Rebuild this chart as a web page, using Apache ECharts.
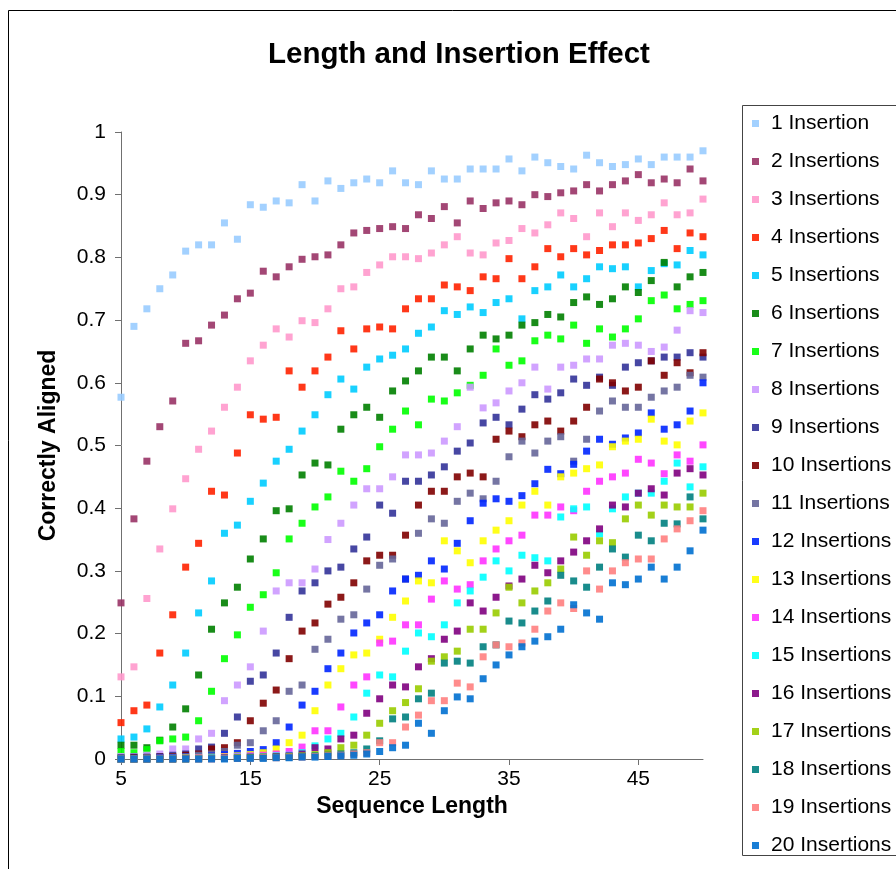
<!DOCTYPE html>
<html>
<head>
<meta charset="utf-8">
<script src="https://cdn.jsdelivr.net/npm/echarts@6/dist/echarts.min.js"></script>
<style>
html,body{margin:0;padding:0;background:#fff;}
#chart{width:896px;height:869px;}
</style>
</head>
<body>
<div id="chart"></div>
<script>
const sequenceLength = [5,6,7,8,9,10,11,12,13,14,15,16,17,18,19,20,21,22,23,24,25,26,27,28,29,30,31,32,33,34,35,36,37,38,39,40,41,42,43,44,45,46,47,48,49,50];
const xTickLabels = [5,15,25,35,45];
const yTickLabels = [0,0.1,0.2,0.3,0.4,0.5,0.6,0.7,0.8,0.9,1];
const seriesNames = ["1 Insertion","2 Insertions","3 Insertions","4 Insertions","5 Insertions","6 Insertions","7 Insertions","8 Insertions","9 Insertions","10 Insertions","11 Insertions","12 Insertions","13 Insertions","14 Insertions","15 Insertions","16 Insertions","17 Insertions","18 Insertions","19 Insertions","20 Insertions"];

const ins1 = [0.577,0.69,0.718,0.75,0.772,0.81,0.82,0.82,0.855,0.829,0.884,0.88,0.89,0.887,0.916,0.89,0.922,0.91,0.919,0.925,0.919,0.938,0.919,0.916,0.938,0.925,0.925,0.941,0.941,0.941,0.957,0.938,0.96,0.951,0.945,0.941,0.963,0.951,0.945,0.948,0.957,0.948,0.96,0.96,0.96,0.97];
const ins2 = [0.249,0.383,0.475,0.530,0.571,0.663,0.667,0.692,0.708,0.734,0.743,0.778,0.769,0.785,0.797,0.801,0.804,0.820,0.839,0.843,0.846,0.849,0.846,0.868,0.862,0.881,0.855,0.890,0.878,0.887,0.890,0.884,0.900,0.897,0.903,0.906,0.916,0.906,0.916,0.922,0.932,0.919,0.925,0.919,0.941,0.922];
const ins3 = [0.131,0.147,0.256,0.335,0.399,0.447,0.494,0.523,0.561,0.593,0.635,0.660,0.686,0.673,0.699,0.696,0.718,0.750,0.753,0.776,0.788,0.801,0.801,0.798,0.807,0.820,0.833,0.807,0.804,0.823,0.827,0.846,0.839,0.852,0.871,0.862,0.833,0.871,0.849,0.871,0.859,0.868,0.887,0.868,0.871,0.893];
const ins4 = [0.058,0.077,0.086,0.169,0.230,0.306,0.344,0.427,0.421,0.488,0.549,0.542,0.545,0.619,0.593,0.619,0.641,0.683,0.654,0.686,0.689,0.686,0.718,0.734,0.734,0.756,0.753,0.747,0.769,0.766,0.798,0.766,0.785,0.814,0.801,0.814,0.804,0.811,0.820,0.820,0.823,0.830,0.843,0.814,0.839,0.833];
const ins5 = [0.032,0.035,0.048,0.083,0.118,0.169,0.233,0.284,0.360,0.373,0.411,0.440,0.475,0.494,0.523,0.549,0.581,0.606,0.590,0.625,0.638,0.644,0.654,0.679,0.689,0.715,0.709,0.721,0.712,0.728,0.734,0.702,0.747,0.753,0.772,0.753,0.766,0.785,0.782,0.785,0.753,0.779,0.790,0.788,0.811,0.804];
const ins6 = [0.022,0.022,0.018,0.030,0.051,0.080,0.134,0.207,0.249,0.274,0.319,0.351,0.396,0.399,0.453,0.472,0.469,0.526,0.549,0.561,0.545,0.587,0.603,0.619,0.641,0.641,0.619,0.654,0.676,0.670,0.676,0.692,0.696,0.709,0.705,0.728,0.737,0.725,0.734,0.753,0.744,0.763,0.792,0.753,0.769,0.776];
const ins7 = [0.012,0.010,0.015,0.029,0.032,0.035,0.061,0.108,0.160,0.198,0.242,0.262,0.297,0.351,0.376,0.402,0.418,0.459,0.443,0.463,0.498,0.526,0.555,0.533,0.574,0.571,0.584,0.596,0.612,0.654,0.628,0.635,0.667,0.676,0.670,0.692,0.663,0.686,0.673,0.686,0.702,0.731,0.740,0.718,0.725,0.731];
const ins8 = [0.004,0.004,0.006,0.008,0.016,0.016,0.032,0.041,0.093,0.118,0.147,0.204,0.268,0.281,0.281,0.303,0.350,0.376,0.405,0.431,0.431,0.450,0.485,0.485,0.488,0.507,0.530,0.593,0.560,0.568,0.587,0.600,0.625,0.590,0.625,0.628,0.638,0.638,0.660,0.663,0.660,0.650,0.657,0.684,0.715,0.712];
const ins9 = [0.002,0.003,0.003,0.004,0.006,0.008,0.016,0.019,0.041,0.067,0.124,0.134,0.169,0.226,0.268,0.281,0.300,0.306,0.335,0.354,0.405,0.392,0.443,0.443,0.453,0.466,0.491,0.504,0.536,0.545,0.533,0.558,0.581,0.574,0.584,0.606,0.596,0.609,0.596,0.625,0.632,0.635,0.641,0.641,0.648,0.641];
const ins10 = [0.001,0.002,0.002,0.003,0.004,0.006,0.008,0.016,0.018,0.026,0.061,0.089,0.110,0.160,0.204,0.217,0.247,0.258,0.281,0.316,0.325,0.325,0.357,0.405,0.427,0.427,0.450,0.456,0.450,0.510,0.523,0.514,0.533,0.539,0.523,0.539,0.561,0.606,0.600,0.587,0.593,0.635,0.612,0.632,0.616,0.648];
const ins11 = [0.001,0.001,0.002,0.002,0.003,0.004,0.006,0.008,0.012,0.022,0.026,0.045,0.061,0.108,0.118,0.175,0.191,0.223,0.230,0.271,0.309,0.319,0.287,0.360,0.383,0.376,0.411,0.424,0.415,0.443,0.482,0.507,0.488,0.507,0.514,0.475,0.510,0.555,0.571,0.561,0.561,0.577,0.587,0.593,0.612,0.609];
const ins12 = [0,0.001,0.001,0.002,0.002,0.003,0.004,0.005,0.007,0.009,0.012,0.015,0.026,0.051,0.086,0.108,0.144,0.169,0.201,0.217,0.230,0.268,0.287,0.293,0.316,0.303,0.344,0.380,0.408,0.415,0.411,0.420,0.439,0.462,0.455,0.470,0.491,0.510,0.502,0.512,0.520,0.552,0.526,0.533,0.555,0.600];
const ins13 = [0,0,0.001,0.001,0.001,0.002,0.003,0.003,0.004,0.005,0.007,0.010,0.016,0.026,0.038,0.077,0.118,0.144,0.166,0.169,0.191,0.226,0.252,0.284,0.281,0.348,0.332,0.313,0.348,0.365,0.380,0.405,0.427,0.405,0.450,0.456,0.463,0.469,0.498,0.507,0.510,0.542,0.507,0.501,0.539,0.552];
const ins14 = [0,0,0,0.001,0.001,0.001,0.002,0.002,0.003,0.004,0.005,0.006,0.008,0.012,0.019,0.045,0.045,0.083,0.118,0.131,0.185,0.188,0.214,0.214,0.255,0.284,0.271,0.278,0.316,0.335,0.348,0.357,0.389,0.389,0.402,0.396,0.427,0.443,0.450,0.456,0.478,0.472,0.455,0.485,0.475,0.501];
const ins15 = [0,0,0,0,0.001,0.001,0.001,0.002,0.002,0.003,0.003,0.004,0.005,0.006,0.010,0.021,0.032,0.041,0.067,0.105,0.134,0.131,0.172,0.201,0.195,0.214,0.249,0.268,0.290,0.316,0.300,0.325,0.321,0.316,0.386,0.399,0.402,0.359,0.399,0.418,0.424,0.424,0.443,0.472,0.434,0.466];
const ins16 = [0,0,0,0,0,0.001,0.001,0.001,0.002,0.002,0.003,0.003,0.004,0.005,0.008,0.018,0.016,0.032,0.038,0.073,0.096,0.118,0.115,0.147,0.160,0.191,0.204,0.249,0.236,0.258,0.276,0.287,0.309,0.297,0.316,0.330,0.348,0.367,0.405,0.402,0.424,0.431,0.421,0.456,0.463,0.453];
const ins17 = [0,0,0,0,0,0,0.001,0.001,0.001,0.002,0.002,0.003,0.003,0.004,0.005,0.007,0.010,0.018,0.022,0.038,0.057,0.077,0.090,0.112,0.156,0.163,0.172,0.207,0.207,0.233,0.274,0.249,0.268,0.281,0.303,0.354,0.325,0.348,0.345,0.383,0.405,0.389,0.405,0.402,0.402,0.424];
const ins18 = [0,0,0,0,0,0,0,0.001,0.001,0.001,0.002,0.002,0.003,0.003,0.004,0.005,0.006,0.008,0.010,0.016,0.029,0.064,0.067,0.096,0.105,0.153,0.156,0.153,0.179,0.182,0.220,0.217,0.236,0.252,0.293,0.284,0.274,0.306,0.335,0.322,0.357,0.348,0.376,0.375,0.418,0.383];
const ins19 = [0,0,0,0,0,0,0,0,0.001,0.001,0.001,0.002,0.002,0.003,0.003,0.004,0.005,0.006,0.008,0.010,0.026,0.026,0.051,0.070,0.093,0.093,0.121,0.115,0.163,0.182,0.179,0.185,0.207,0.236,0.249,0.240,0.300,0.271,0.300,0.313,0.319,0.319,0.351,0.367,0.380,0.396];
const ins20 = [0,0,0,0,0,0,0,0,0,0.001,0.001,0.001,0.002,0.002,0.003,0.003,0.004,0.005,0.006,0.008,0.012,0.018,0.022,0.057,0.041,0.077,0.099,0.096,0.128,0.150,0.166,0.179,0.188,0.195,0.207,0.246,0.233,0.223,0.281,0.278,0.287,0.306,0.287,0.306,0.332,0.365];

const allSeries = [ins1,ins2,ins3,ins4,ins5,ins6,ins7,ins8,ins9,ins10,ins11,ins12,ins13,ins14,ins15,ins16,ins17,ins18,ins19,ins20];
const colors = ['#99CCFF','#993366','#FF99CC','#FF2200','#00CCFF','#008000','#00FF00','#CC99FF','#333399','#800000','#666699','#0026FF','#FFFF00','#FF33FF','#00FFFF','#800080','#99CC00','#008080','#FF8080','#0070D0'];

const FONT = "'Liberation Sans', Arial, sans-serif";
const chart = echarts.init(document.getElementById('chart'), null, {renderer:'canvas'});

const series = allSeries.map((vals, k) => ({
  name: seriesNames[k],
  type: 'scatter',
  symbol: 'rect',
  symbolSize: 7,
  clip: false,
  itemStyle: {color: colors[k], opacity: 0.9},
  emphasis: {disabled: true},
  data: sequenceLength.map((x, i) => [x, vals[i]])
}));

chart.setOption({
  animation: false,
  backgroundColor: '#fff',
  textStyle: {fontFamily: FONT},
  title: {
    text: 'Length and Insertion Effect',
    left: 454, top: 35, textAlign: 'center',
    textStyle: {fontFamily: FONT, fontSize: 29.5, fontWeight: 'bold', color: '#000'}
  },
  graphic: [{
    type: 'rect', silent: true, z: -10,
    shape: {x: 8.5, y: 10.5, width: 1000, height: 1000},
    style: {fill: 'none', stroke: '#000', lineWidth: 1}
  }, {
    type: 'rect', silent: true, z: -9,
    shape: {x: 742.5, y: 105.5, width: 400, height: 750},
    style: {fill: 'none', stroke: '#444', lineWidth: 1}
  }],
  legend: {
    orient: 'vertical',
    left: 742, top: 105,
    padding: [8, 10, 1, 10],
    borderWidth: 0,
    itemWidth: 7, itemHeight: 7, itemGap: 17,
    icon: 'rect',
    data: seriesNames,
    textStyle: {fontFamily: FONT, fontSize: 21, lineHeight: 21, color: '#000', padding: [0,0,0,7]}
  },
  grid: {left: 121, right: 193, top: 132, bottom: 110, containLabel: false},
  xAxis: {
    type: 'value', min: 5, max: 50, interval: 10,
    name: 'Sequence Length', nameLocation: 'middle', nameGap: 36,
    nameTextStyle: {fontFamily: FONT, fontSize: 23, fontWeight: 'bold', color: '#000'},
    axisLine: {show: true, lineStyle: {color: '#707070', width: 1}},
    axisTick: {show: true, inside: false, length: 6, customValues: xTickLabels, lineStyle: {color: '#707070'}},
    axisLabel: {fontFamily: FONT, fontSize: 21, color: '#000', margin: 10, customValues: xTickLabels},
    splitLine: {show: false}
  },
  yAxis: {
    type: 'value', min: 0, max: 1, interval: 0.1,
    name: 'Correctly Aligned', nameLocation: 'middle', nameGap: 61, nameRotate: 90,
    nameTextStyle: {fontFamily: FONT, fontSize: 23, fontWeight: 'bold', color: '#000'},
    axisLine: {show: true, lineStyle: {color: '#707070', width: 1}},
    axisTick: {show: true, inside: false, length: 6, customValues: yTickLabels, lineStyle: {color: '#707070'}},
    axisLabel: {fontFamily: FONT, fontSize: 21, color: '#000', margin: 15, customValues: yTickLabels},
    splitLine: {show: false}
  },
  series: series
});
</script>
</body>
</html>
